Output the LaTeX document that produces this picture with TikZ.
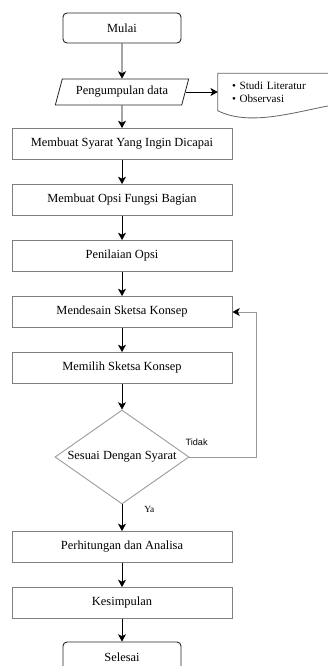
\documentclass[tikz,border=0pt]{standalone}
\usepackage{fontspec}
\setmainfont{Liberation Serif}
\newfontfamily\arialfont{Liberation Sans}
\usetikzlibrary{positioning,shapes.geometric,arrows.meta}

\begin{document}
\begin{tikzpicture}[node distance=1.68cm, auto,
		teks/.style={font=\fontsize{10.6}{12}\selectfont},
		terminal/.style={teks, draw=black!85, line width=0.8pt, rounded corners=0.12cm, minimum width=3.54cm, minimum height=0.9cm},
		proses/.style={teks, draw=black!50, line width=0.8pt, minimum width=6.6cm, minimum height=0.93cm},
		io/.style={teks, draw=black!85, line width=0.7pt, trapezium, trapezium left angle=70, trapezium right angle=110, minimum width=4cm, minimum height=0.78cm, trapezium stretches body},
		keputusan/.style={teks, draw=black!38, line width=0.8pt, diamond, aspect=1.43, inner sep=0pt, minimum width=4.02cm, minimum height=2.82cm},
		catatan/.style={font=\fontsize{9.5}{11.5}\selectfont, align=left, text width=2.76cm, inner xsep=0.42cm, minimum height=1.11cm},
		panah/.style={-{Stealth[length=2.2mm, width=2.4mm, inset=0.6mm]}, line width=0.6pt},
		balik/.style={-{Stealth[length=2.2mm, width=2.4mm, inset=0.6mm, color=black]}, draw=black!40, line width=0.8pt},
		ket/.style={font=\fontsize{8}{9}\selectfont}]
		\useasboundingbox (0,0) rectangle (9.81,-19.98);
		
		\node[terminal] (Mulai) at (3.66,-0.84) {Mulai};
		\node[io] (Data) [below of=Mulai, node distance=1.92cm] {Pengumpulan data};
		\node[catatan] (Lit) [right of=Data, node distance=4.68cm] {\textbullet\ Studi Literatur\\\textbullet\ Observasi};
		\node[proses] (Syarat) [below of=Data, node distance=1.56cm] {Membuat Syarat Yang Ingin Dicapai};
		\node[proses] (Opsi) [below of=Syarat] {Membuat Opsi Fungsi Bagian};
		\node[proses] (Nilai) [below of=Opsi] {Penilaian Opsi};
		\node[proses] (Desain) [below of=Nilai] {Mendesain Sketsa Konsep};
		\node[proses] (Pilih) [below of=Desain] {Memilih Sketsa Konsep};
		\node[keputusan] (Sesuai) [below of=Pilih, node distance=2.67cm] {Sesuai Dengan Syarat};
		\node[proses] (Hitung) [below of=Sesuai, node distance=2.7cm] {Perhitungan dan Analisa};
		\node[proses] (Simpul) [below of=Hitung] {Kesimpulan};
		\node[terminal] (Selesai) [below of=Simpul, node distance=1.62cm] {Selesai};
		\node[ket, font=\arialfont\fontsize{7.8}{9}\selectfont] (Tidak) [above right=0.22cm and -0.24cm of Sesuai.east] {Tidak};
		
		% kertas catatan
		\draw[draw=black!60, line width=0.7pt] (Lit.north east) -- (Lit.north west) -- (Lit.south west)
			.. controls +(1.0,-0.5) and +(-1.2,-0.2) .. ([yshift=0.2cm]Lit.south east);
		
		\draw[panah] (Mulai) -- (Data);
		\draw[panah] (Data.east) -- (Lit.west |- Data.east);
		\draw[panah] (Data) -- (Syarat);
		\draw[panah] (Syarat) -- (Opsi);
		\draw[panah] (Opsi) -- (Nilai);
		\draw[panah] (Nilai) -- (Desain);
		\draw[panah] (Desain) -- (Pilih);
		\draw[panah] (Pilih) -- (Sesuai);
		\draw[panah] (Sesuai) -- node[ket, pos=0.2, right=0.54cm] (Ya) {Ya} (Hitung);
		\draw[panah] (Hitung) -- (Simpul);
		\draw[panah] (Simpul) -- (Selesai);
		\draw[balik] (Sesuai.east) -- ++(2.01,0) |- (Desain.east);
		
	\end{tikzpicture}
\end{document}
